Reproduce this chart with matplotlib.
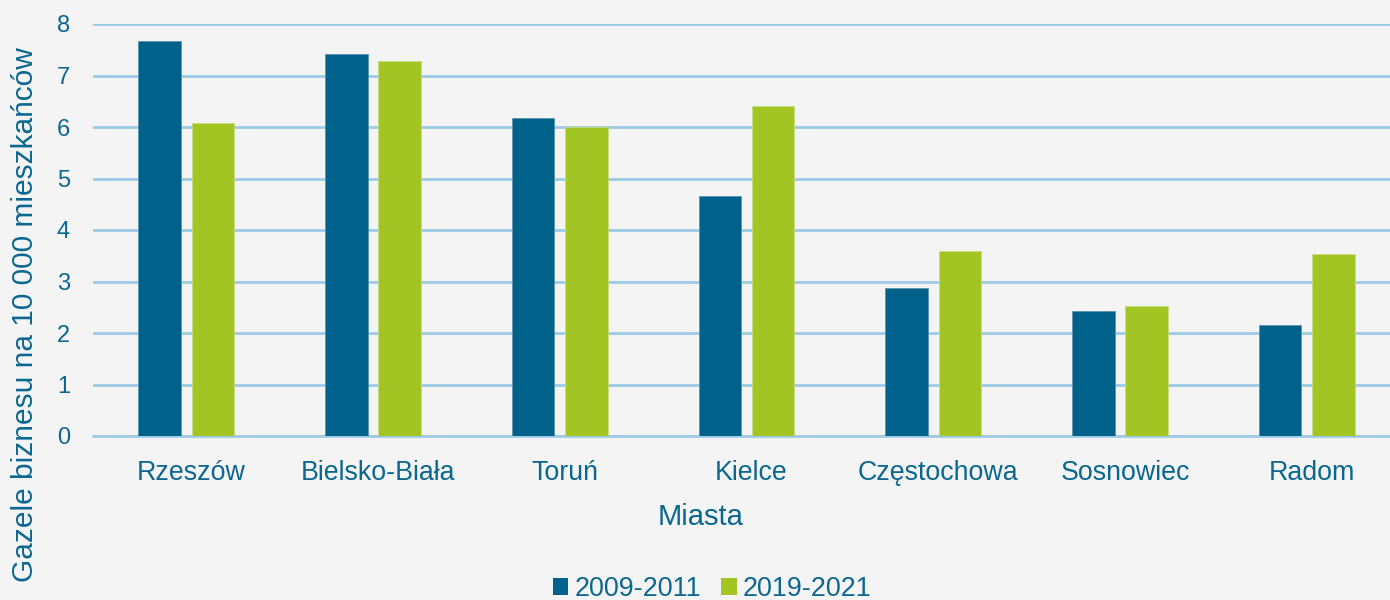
import numpy as np
import matplotlib.pyplot as plt
import matplotlib.transforms as mtransforms
from matplotlib.patches import Patch

# values
cities = ['Rzeszów', 'Bielsko-Biała', 'Toruń', 'Kielce', 'Częstochowa',
          'Sosnowiec', 'Radom']
p2009 = [7.67, 7.42, 6.18, 4.66, 2.88, 2.43, 2.16]
p2019 = [6.08, 7.29, 6.0, 6.41, 3.59, 2.53, 3.54]
series_names = ['2009-2011', '2019-2021']

BLUE = '#00628b'
GREEN = '#a2c523'
TEXT = '#0b6790'
GRID = '#9dcbe6'
BG = '#f4f4f4'

plt.rcParams['font.family'] = ['Liberation Sans', 'DejaVu Sans']

fig = plt.figure(figsize=(13.9, 6), dpi=100, facecolor=BG)
# the plot area runs a little past the right edge of the picture
ax = fig.add_axes([93 / 1390, 1 - 436 / 600, 1307 / 1390, (436 - 24) / 600])
ax.set_facecolor(BG)

x = np.arange(len(cities))
w = 0.228
ax.bar(x - 0.143, p2009, w, color=BLUE, edgecolor='#5a94b0', linewidth=0.6,
       zorder=3)
ax.bar(x + 0.143, p2019, w, color=GREEN, edgecolor='#c8dc80', linewidth=0.6,
       zorder=3)

ax.set_xlim(-0.5, len(cities) - 0.5)
ax.set_ylim(0, 8)
ax.set_yticks(range(0, 9))
ax.yaxis.grid(True, color=GRID, linewidth=2, zorder=0)
ax.set_axisbelow(True)
for s in ['top', 'right', 'left']:
    ax.spines[s].set_visible(False)
ax.spines['bottom'].set_color(GRID)
ax.spines['bottom'].set_linewidth(2)

ax.set_xticks(x)
ax.set_xticklabels(cities)
ax.tick_params(axis='x', length=0, labelsize=19.3, colors=TEXT, pad=17)
ax.tick_params(axis='y', length=0, labelsize=17, colors=TEXT, pad=16.5)
# category labels sit a few pixels right of the bar pairs
shift = mtransforms.ScaledTranslation(5 / 100, 0, fig.dpi_scale_trans)
for lab in ax.get_xticklabels():
    lab.set_transform(lab.get_transform() + shift)

ax.set_xlabel('Miasta', fontsize=21, color=TEXT, labelpad=12.5)
ax.xaxis.label.set_x((701 - 93) / 1307)
fig.text(25 / 1390, 1 - 315 / 600, 'Gazele biznesu na 10 000 mieszkańców',
         rotation=90, ha='center', va='center', fontsize=21.5, color=TEXT)

handles = [Patch(facecolor=BLUE), Patch(facecolor=GREEN)]
fig.legend(handles, series_names, loc='center', ncol=2,
           bbox_to_anchor=(712 / 1390, 1 - 589 / 600), frameon=False,
           fontsize=19.4, labelcolor=TEXT, handlelength=0.58,
           handleheight=0.58, handletextpad=0.22, columnspacing=0.75)

fig.savefig('out.png', dpi=100, facecolor=BG)
